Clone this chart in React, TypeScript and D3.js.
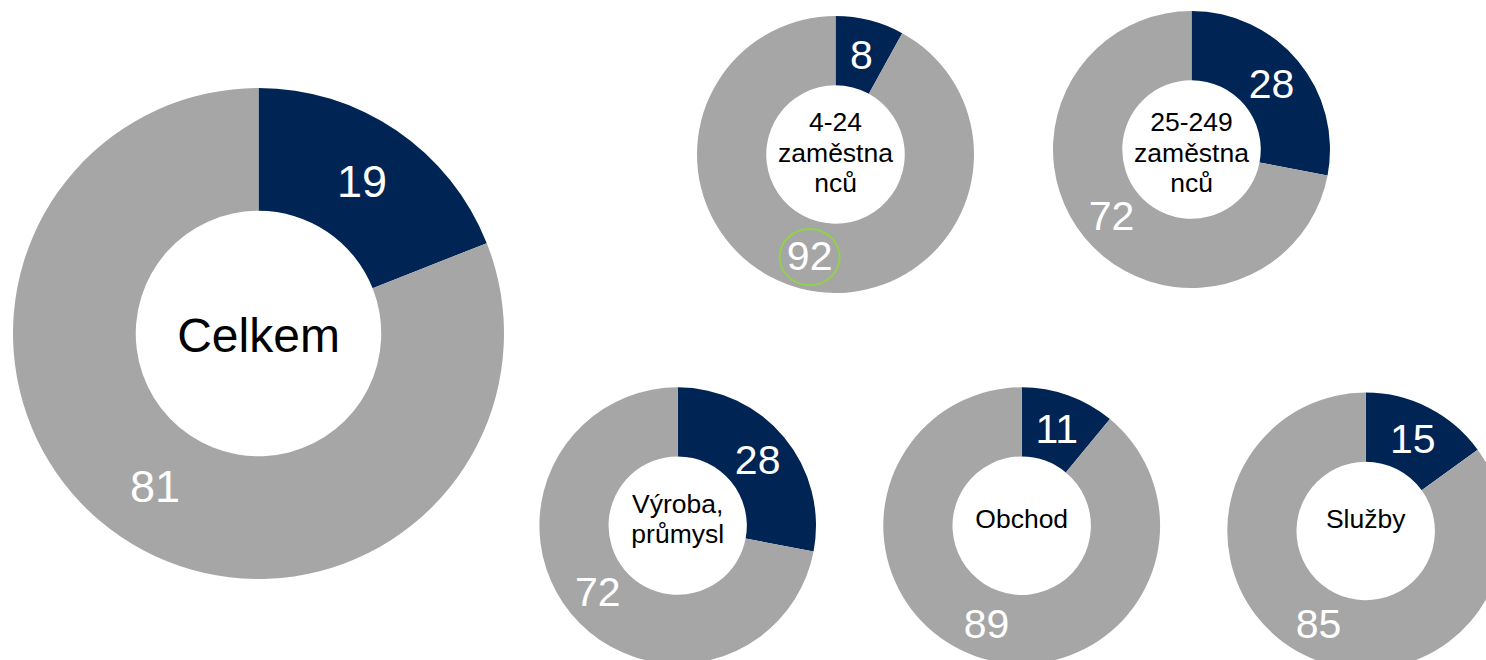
import React, { useEffect, useRef } from 'react';
import * as d3 from 'd3';

// share of firms (%) - dark slice vs. the rest
const categories = ['Celkem', '4-24 zaměstnanců', '25-249 zaměstnanců', 'Výroba, průmysl', 'Obchod', 'Služby'];
const yesValues = [19, 8, 28, 28, 11, 15];
const noValues = [81, 92, 72, 72, 89, 85];
const centerLabels = [
  ['Celkem'],
  ['4-24', 'zaměstna', 'nců'],
  ['25-249', 'zaměstna', 'nců'],
  ['Výroba,', 'průmysl'],
  ['Obchod'],
  ['Služby'],
];

// where each donut sits on the page
const layout = [
  { cx: 258.5, cy: 333.5, r: 245.5, num: 45, txt: 48, dy: 18 },
  { cx: 835.5, cy: 154.5, r: 138.5, num: 41, txt: 26.5, dy: 7 },
  { cx: 1191.5, cy: 149.5, r: 138.5, num: 41, txt: 26.5, dy: 12 },
  { cx: 677.7, cy: 525.6, r: 138.3, num: 41, txt: 26.5, dy: 2.5 },
  { cx: 1021.7, cy: 525.7, r: 138.4, num: 41, txt: 26.5, dy: 2.5 },
  { cx: 1365.7, cy: 531, r: 138.4, num: 41, txt: 26.5, dy: -3 },
];

const colors = ['#002554', '#A6A6A6'];
const font = '"Liberation Sans", Arial, sans-serif';

const App = () => {
  const svgRef = useRef<SVGSVGElement | null>(null);

  useEffect(() => {
    const width = 1486;
    const height = 660;

    const svg = d3.select(svgRef.current);
    svg.selectAll('*').remove();
    svg.attr('width', width).attr('height', height).style('background', '#fff');

    const pie = d3.pie<number>().sort(null).value(d => d);

    categories.forEach((cat, i) => {
      const L = layout[i];
      const g = svg.append('g').attr('transform', `translate(${L.cx},${L.cy})`);
      const arc = d3.arc<d3.PieArcDatum<number>>()
        .innerRadius(L.r * 0.5)
        .outerRadius(L.r);

      const arcs = pie([yesValues[i], noValues[i]]);

      g.selectAll('path')
        .data(arcs)
        .enter()
        .append('path')
        .attr('d', arc)
        .attr('fill', (d, j) => colors[j]);

      g.selectAll('text.val')
        .data(arcs)
        .enter()
        .append('text')
        .attr('class', 'val')
        .attr('transform', d => `translate(${arc.centroid(d)})`)
        .attr('text-anchor', 'middle')
        .attr('dy', '0.36em')
        .style('font-family', font)
        .style('font-size', `${L.num}px`)
        .style('fill', '#fff')
        .text(d => d.data);

      // category name in the hole
      const lines = centerLabels[i];
      const lh = 30.5;
      const t = g.append('text')
        .attr('text-anchor', 'middle')
        .style('font-family', font)
        .style('font-size', `${L.txt}px`)
        .style('fill', '#000');
      lines.forEach((ln, k) => {
        t.append('tspan')
          .attr('x', 0)
          .attr('y', L.dy + (k - (lines.length - 1) / 2) * lh)
          .text(ln);
      });
    });

    // green highlight round the "92" label
    const hl = pie([yesValues[1], noValues[1]])[1];
    const hlArc = d3.arc<d3.PieArcDatum<number>>()
      .innerRadius(layout[1].r * 0.5)
      .outerRadius(layout[1].r);
    const [hx, hy] = hlArc.centroid(hl);
    svg.append('ellipse')
      .attr('cx', layout[1].cx + hx)
      .attr('cy', layout[1].cy + hy + 2)
      .attr('rx', 30)
      .attr('ry', 28)
      .attr('fill', 'none')
      .attr('stroke', '#92D050')
      .attr('stroke-width', 2);
  }, []);

  return <svg ref={svgRef} style={{ position: 'absolute', left: 0, top: 0 }}></svg>;
};

export default App;
